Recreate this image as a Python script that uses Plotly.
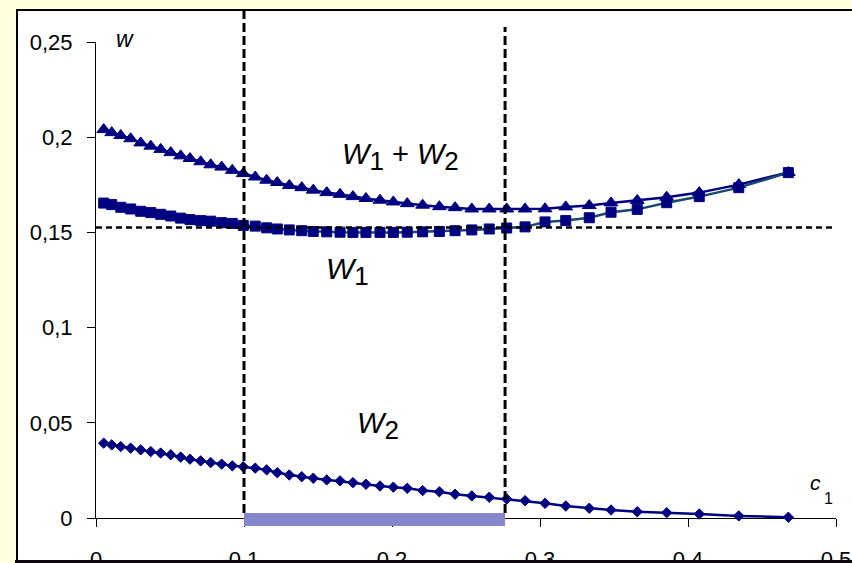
import plotly.graph_objects as go

# ---------------- data ----------------
c1 = [0.0052, 0.0106, 0.0167, 0.0234, 0.0302, 0.0370, 0.0437, 0.0505, 0.0572, 0.0635,
      0.0707, 0.0775, 0.0849, 0.0921, 0.0995, 0.1076, 0.1153, 0.1225, 0.1306, 0.1390,
      0.1468, 0.1559, 0.1649, 0.1736, 0.1824, 0.1919, 0.2009, 0.2103, 0.2207, 0.2320,
      0.2426, 0.2539, 0.2657, 0.2775, 0.2899, 0.3034, 0.3174, 0.3333, 0.3480, 0.3657,
      0.3856, 0.4076, 0.4343, 0.4678]

w_sum = [0.2040, 0.2024, 0.2009, 0.1992, 0.1970, 0.1953, 0.1936, 0.1919, 0.1902, 0.1888,
         0.1871, 0.1855, 0.1843, 0.1826, 0.1809, 0.1791, 0.1774, 0.1762, 0.1746, 0.1735,
         0.1722, 0.1709, 0.1700, 0.1688, 0.1678, 0.1669, 0.1660, 0.1651, 0.1643, 0.1635,
         0.1630, 0.1623, 0.1623, 0.1623, 0.1623, 0.1624, 0.1634, 0.1641, 0.1655, 0.1668,
         0.1685, 0.1709, 0.1751, 0.1815]

w1 = [0.1654, 0.1646, 0.1632, 0.1623, 0.1611, 0.1604, 0.1595, 0.1586, 0.1575, 0.1567,
      0.1562, 0.1559, 0.1551, 0.1547, 0.1537, 0.1533, 0.1524, 0.1518, 0.1513, 0.1509,
      0.1505, 0.1503, 0.1501, 0.1500, 0.1500, 0.1500, 0.1500, 0.1501, 0.1503, 0.1505,
      0.1509, 0.1513, 0.1518, 0.1523, 0.1529, 0.1555, 0.1562, 0.1577, 0.1606, 0.1621,
      0.1656, 0.1688, 0.1735, 0.1814]

w2 = [0.0393, 0.0384, 0.0375, 0.0367, 0.0358, 0.0349, 0.0341, 0.0332, 0.0320, 0.0309,
      0.0300, 0.0291, 0.0283, 0.0274, 0.0269, 0.0262, 0.0253, 0.0238, 0.0226, 0.0217,
      0.0209, 0.0200, 0.0195, 0.0186, 0.0177, 0.0168, 0.0162, 0.0156, 0.0144, 0.0138,
      0.0125, 0.0116, 0.0109, 0.0100, 0.0091, 0.0077, 0.0063, 0.0051, 0.0042, 0.0033,
      0.0028, 0.0021, 0.0011, 0.0004]

x_ticks = [0, 0.1, 0.2, 0.3, 0.4, 0.5]
x_tick_text = ["0", "0,1", "0,2", "0,3", "0,4", "0,5"]
y_ticks = [0, 0.05, 0.1, 0.15, 0.2, 0.25]
y_tick_text = ["0", "0,05", "0,1", "0,15", "0,2", "0,25"]

c1_bounds = [0.1, 0.2764]     # vertical dashed lines / shaded interval
w_level = 0.1526              # horizontal dashed line

# ---------------- figure ----------------
FONT = "Liberation Sans, Arial, sans-serif"
NAVY = "#000080"

W, H = 852, 563
ML, MR, MT, MB = 96, 16, 42, 45
PW, PH = W - ML - MR, H - MT - MB


def px_x(p):
    return (p - ML) / PW


def px_y(p):
    return (H - MB - p) / PH


fig = go.Figure()

fig.add_trace(go.Scatter(
    x=c1, y=w_sum, mode="lines+markers", name="W1 + W2",
    line=dict(color=NAVY, width=2.5),
    marker=dict(symbol="triangle-up", size=12, color=NAVY,
                line=dict(color=NAVY, width=1)),
    cliponaxis=False))
fig.add_trace(go.Scatter(
    x=c1, y=w1, mode="lines+markers", name="W1",
    line=dict(color="#174870", width=2.5),
    marker=dict(symbol="square", size=10, color=NAVY,
                line=dict(color=NAVY, width=1)),
    cliponaxis=False))
fig.add_trace(go.Scatter(
    x=c1, y=w2, mode="lines+markers", name="W2",
    line=dict(color=NAVY, width=2.5),
    marker=dict(symbol="diamond", size=8, color=NAVY,
                line=dict(color=NAVY, width=1)),
    cliponaxis=False))

shapes = [
    # white chart box with black frame
    dict(type="rect", xref="paper", yref="paper", layer="below",
         x0=px_x(17), x1=px_x(900), y0=px_y(561), y1=px_y(10),
         fillcolor="white", line=dict(color="black", width=2)),
    # shaded interval on the c1 axis
    dict(type="rect", xref="x", yref="paper", layer="above",
         x0=c1_bounds[0], x1=c1_bounds[1], y0=px_y(526), y1=px_y(513),
         fillcolor="#8585CC", line=dict(width=0)),
    # dashed vertical lines
    dict(type="line", xref="x", yref="paper", layer="above",
         x0=c1_bounds[0], x1=c1_bounds[0], y0=px_y(513), y1=px_y(11),
         line=dict(color="black", width=3, dash="9px,4px")),
    dict(type="line", xref="x", yref="paper", layer="above",
         x0=c1_bounds[1], x1=c1_bounds[1], y0=px_y(513), y1=px_y(27),
         line=dict(color="black", width=3, dash="9px,4px")),
    # dashed horizontal line
    dict(type="line", xref="x", yref="y", layer="above",
         x0=0, x1=0.5, y0=w_level, y1=w_level,
         line=dict(color="black", width=2.5, dash="6px,4px")),
    # bottom frame edge clipping the tick labels
    dict(type="rect", xref="paper", yref="paper", layer="above",
         x0=px_x(15), x1=px_x(900), y0=px_y(575), y1=px_y(560),
         fillcolor="#100810", line=dict(width=0)),
]

SUB = "<sub><span style='font-size:{s}px'>{t}</span></sub>"

annotations = [
    dict(text="<i>W</i>" + SUB.format(s=26, t="1") + " + <i>W</i>" + SUB.format(s=26, t="2"),
         x=px_x(340), y=px_y(157), xanchor="left", yanchor="middle",
         font=dict(size=29, family=FONT, color="black")),
    dict(text="<i>W</i>" + SUB.format(s=26, t="1"),
         x=px_x(324), y=px_y(271), xanchor="left", yanchor="middle",
         font=dict(size=30, family=FONT, color="black")),
    dict(text="<i>W</i>" + SUB.format(s=26, t="2"),
         x=px_x(355), y=px_y(426), xanchor="left", yanchor="middle",
         font=dict(size=29, family=FONT, color="black")),
    dict(text="<i>w</i>", x=px_x(114), y=px_y(39), xanchor="left", yanchor="middle",
         font=dict(size=23, family=FONT, color="black")),
    dict(text="<i>c</i>", x=px_x(808), y=px_y(482), xanchor="left", yanchor="middle",
         font=dict(size=21, family=FONT, color="black")),
    dict(text="1", x=px_x(822), y=px_y(498), xanchor="left", yanchor="middle",
         font=dict(size=16, family=FONT, color="black")),
]
for a in annotations:
    a.update(xref="paper", yref="paper", showarrow=False)

fig.update_layout(
    width=W, height=H,
    margin=dict(l=ML, r=MR, t=MT, b=MB, pad=0, autoexpand=False),
    paper_bgcolor="#FFFFE0",
    plot_bgcolor="white",
    showlegend=False,
    font=dict(family=FONT, color="black"),
    shapes=shapes,
    annotations=annotations,
    xaxis=dict(range=[0, 0.5], tickvals=x_ticks, ticktext=x_tick_text,
               showgrid=False, zeroline=False, showline=True, linecolor="black",
               linewidth=1, ticks="outside", ticklen=8, tickcolor="black",
               tickfont=dict(size=22, family=FONT, color="black"),
               ticklabelstandoff=14, fixedrange=True, automargin=False,
               layer="below traces"),
    yaxis=dict(range=[0, 0.25], tickvals=y_ticks, ticktext=y_tick_text,
               showgrid=False, zeroline=False, showline=True, linecolor="black",
               linewidth=1, ticks="outside", ticklen=8, tickcolor="black",
               tickfont=dict(size=22, family=FONT, color="black"),
               ticklabelstandoff=10, fixedrange=True, automargin=False,
               layer="below traces"),
)

fig.write_html(
    "out.html",
    config={"displayModeBar": False},
    post_script="document.body.style.margin='0';document.body.style.overflow='hidden';",
)
